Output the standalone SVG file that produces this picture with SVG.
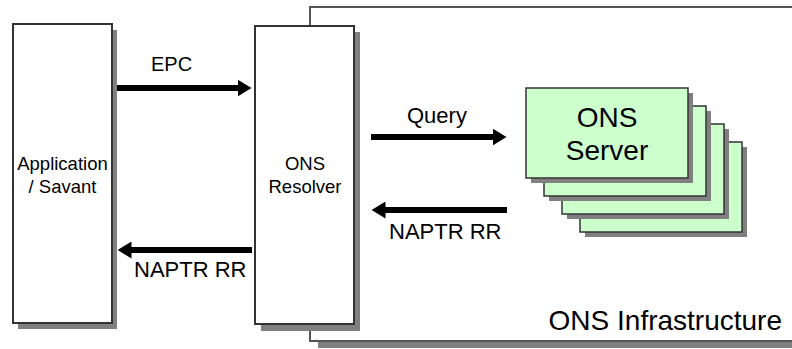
<svg xmlns="http://www.w3.org/2000/svg" width="792" height="349" viewBox="0 0 792 349">
<style>
text{font-family:"Liberation Sans",Arial,Helvetica,sans-serif;fill:#000}
.shadow{fill:#808080;stroke:none}
.box{fill:#fff;stroke:#333;stroke-width:2}
.srv{fill:#ccffcc;stroke:#333;stroke-width:1.5}
.infra{fill:#fff;stroke:#555;stroke-width:2}
.arrow{stroke:#000;stroke-width:6;fill:none;marker-end:url(#ah)}
.lbl{font-size:22px}
.nl{font-size:18.5px;text-anchor:middle}
.big{font-size:28px}
</style>
<defs>
<marker id="ah" viewBox="0 0 14 17" markerWidth="14" markerHeight="17" refX="0.5" refY="8.5" markerUnits="userSpaceOnUse" orient="auto">
<path d="M0,0 L14,8.5 L0,17 z" fill="#000"/>
</marker>
</defs>
<rect width="792" height="349" fill="#fff"/>

<g id="ons-infrastructure">
<rect class="shadow" x="318" y="13" width="500" height="335"/>
<rect class="infra" x="310" y="7" width="500" height="334"/>
<text class="big" x="782" y="330" text-anchor="end">ONS Infrastructure</text>
</g>

<g id="application-savant">
<rect class="shadow" x="18" y="30" width="99" height="299"/>
<rect class="box" x="13" y="24" width="99" height="299"/>
<text class="nl" x="62.5" y="170">Application</text>
<text class="nl" x="62.5" y="193">/ Savant</text>
</g>

<g id="ons-resolver">
<rect class="shadow" x="261" y="32" width="99" height="299"/>
<rect class="box" x="255" y="26" width="99" height="298"/>
<text class="nl" x="305" y="170">ONS</text>
<text class="nl" x="305" y="193">Resolver</text>
</g>

<g id="ons-server">
<rect class="shadow" x="585" y="147" width="162" height="90"/>
<rect class="srv" x="580" y="142" width="162" height="90"/>
<rect class="shadow" x="567" y="129" width="162" height="90"/>
<rect class="srv" x="562" y="124" width="162" height="90"/>
<rect class="shadow" x="549" y="111" width="162" height="90"/>
<rect class="srv" x="544" y="106" width="162" height="90"/>
<rect class="shadow" x="531" y="93" width="162" height="90"/>
<rect class="srv" x="526" y="88" width="162" height="90"/>
<text class="big" x="607" y="127" text-anchor="middle">ONS</text>
<text class="big" x="607" y="160" text-anchor="middle">Server</text>
</g>

<g id="connectors">
<line class="arrow" x1="117" y1="88" x2="238" y2="88"/>
<text class="lbl" x="151" y="71" style="font-size:20px">EPC</text>
<line class="arrow" x1="252" y1="250" x2="131" y2="250"/>
<text class="lbl" x="134" y="277">NAPTR RR</text>
<line class="arrow" x1="371" y1="137" x2="493" y2="137"/>
<text class="lbl" x="407" y="123">Query</text>
<line class="arrow" x1="507" y1="210" x2="385" y2="210"/>
<text class="lbl" x="389" y="239">NAPTR RR</text>
</g>
</svg>
